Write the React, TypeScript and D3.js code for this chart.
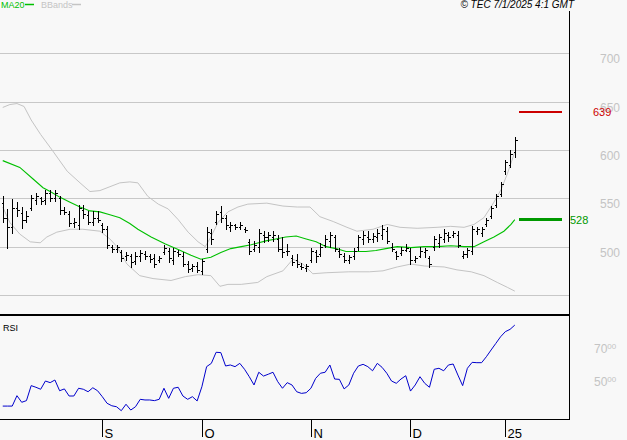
import React from "react";
import * as d3 from "d3";

// OHLC per trading day, Aug 2024 -> early Jan 2025
const highs = [552,539,549,546,541,537,553,556,551,559,559,559,552,541,537,530,543,543,537,537,537,524,521,502,502,497,494,
  492,494,497,495,492,492,490,502,499,499,497,494,485,482,484,487,520,518,537,542,533,525,523,525,520,508,506,
  518,516,515,516,512,510,503,491,492,483,482,499,497,504,512,515,512,499,493,491,499,512,516,516,514,518,522,
  520,504,496,500,503,499,490,500,499,490,511,513,518,515,516,516,495,499,521,520,520,530,542,554,567,590,600,613];
const lows = [526,499,514,532,519,526,538,544,544,544,547,547,534,534,521,520,518,530,523,522,525,515,499,494,494,485,486,
  479,482,485,487,484,479,484,492,484,482,490,480,474,475,474,472,494,503,523,525,518,516,518,518,515,492,495,
  494,505,506,506,495,489,491,481,479,477,475,484,484,490,500,500,495,489,484,483,487,497,503,505,505,506,508,
  504,495,487,491,495,482,484,489,489,479,497,500,505,506,510,500,488,489,492,513,511,521,530,541,552,575,582,593];
const opens = [545,530,520,540,535,528,540,548,550,548,555,550,550,538,534,524,522,538,533,526,530,522,518,500,498,494,490,
  490,485,490,492,490,488,486,494,496,486,494,490,482,478,480,475,498,514,526,536,530,520,522,520,518,505,498,
  500,512,510,510,508,498,496,488,486,480,478,486,494,492,502,506,510,496,490,486,490,500,508,510,508,510,512,
  516,500,494,493,497,496,486,490,494,488,500,504,508,512,512,512,490,492,496,516,514,523,532,543,554,578,584,598];
const closes = [530,520,540,538,528,532,550,552,547,556,550,555,538,536,524,526,540,534,526,530,528,518,502,498,500,488,491,
  484,490,493,490,487,482,488,499,488,495,492,482,477,480,476,485,515,508,534,530,522,522,520,522,517,496,502,
  514,510,512,512,498,494,495,484,482,479,480,496,490,500,508,512,498,492,486,489,496,510,512,508,511,514,518,
  506,498,490,497,499,486,488,496,497,482,508,510,514,510,514,502,492,497,518,518,518,528,540,552,565,588,596,610];

// RSI(14) per day
const rsi = [34.8,34.8,34.8,41.1,37.1,38.1,47.2,46.2,45.0,50.0,49.0,50.6,44.1,45.2,40.9,40.9,45.6,45.0,43.5,45.9,44.1,40.5,36.5,35.0,34.4,32.0,35.9,
  32.4,34.4,38.9,38.5,38.5,38.1,38.9,45.6,39.5,45.6,46.2,40.9,38.9,40.5,37.9,46.5,58.7,60.7,67.4,67.2,59.1,59.7,58.7,60.7,57.1,52.6,47.6,
  55.3,53.0,54.1,55.3,49.6,45.6,49.0,47.6,43.5,42.5,42.9,45.6,51.6,54.7,55.3,59.7,51.2,51.0,45.2,47.6,54.7,59.1,60.1,58.7,56.2,60.7,58.3,
  54.7,50.0,48.6,51.2,53.2,43.9,47.6,52.6,48.6,46.2,57.1,57.7,56.2,59.7,60.3,53.6,47.2,57.7,61.3,61.1,61.1,64.7,68.8,72.8,76.8,79.9,81.3,83.9];

// [bar index, value] read along the overlays
const ma20: [number, number][] = [[0,589],[3.6,582],[6.4,570],[8.5,561],[10,557],[12.1,551],[14.2,546],[16.3,541],[18.4,537],[20.5,536],
  [22.6,533],[24.7,530],[26.8,524],[28.5,518],[31.3,510],[34.2,503],[37,497],[39.7,491],[41.8,487],[43.9,489],[46,494],[48.1,498],
  [50.3,500],[52.4,502],[55.5,506],[57.6,508],[59.7,510],[61.9,511],[64,508],[66.1,505],[68.2,500],[70.3,498],[72.4,495],[74.5,495],
  [76.6,495],[78.7,496],[80.8,498],[83.2,500],[86.1,499],[88.9,500],[91.6,500],[94.5,501],[97.3,500],[99.4,500],[101.5,505],
  [103.6,510],[105.7,516],[107.2,523],[108,528]];
const bbUpper: [number, number][] = [[0,644],[1.5,647],[3,648],[4.5,645],[6,631],[8,616],[10.4,600],[13.6,578],[16.3,566],[18.4,557],
  [20.5,558],[22.6,562],[24.7,566],[26.8,567],[28.5,566],[30.6,552],[32.8,544],[34.9,539],[37,528],[39.1,515],[41.2,505],[42.7,500],
  [43.9,510],[45.4,525],[47.5,536],[49.6,541],[51.7,544],[55.7,545],[59.1,542],[62.1,541],[64.8,541],[66.9,531],[69.7,526],[72.6,520],
  [74.7,516],[78.1,518],[81.1,523],[83.8,520],[87.4,519],[91.6,520],[94.5,521],[97.3,520],[99.4,523],[101.5,530],[103.6,546],
  [105.1,559],[106.4,575],[108,598]];
const bbLower: [number, number][] = [[0,541],[1.5,525],[3.6,513],[5.8,505],[7.9,504],[9.3,510],[11.4,515],[14.2,518],[16.9,518],[20.5,516],
  [22.6,508],[24.1,500],[26.2,482],[28.9,470],[31.7,467],[35.5,465],[38.5,469],[41.2,471],[43.9,470],[45.8,459],[47.5,461],[50.3,461],
  [53.8,463],[55.7,469],[59.1,475],[61.2,487],[63.3,482],[65.4,472],[68.2,473],[73,474],[77.3,474],[80.2,475],[83.2,479],[86.1,482],
  [88.9,480],[93.1,479],[95.8,476],[98.8,474],[101.5,470],[104.3,463],[106.4,458],[108,454]];

const gridTicks = [450, 500, 550, 600, 650, 700];
const priceLabels = [500, 550, 600, 650, 700];
const rsiLabels = [70, 50];
const monthTicks = [21, 42, 65, 86, 106];
const monthLabels = ["S", "O", "N", "D", "25"];
const lastMa = 528;
const target = 639;

const W = 627;
const H = 440;
const axisX = 569.5;
const font = "'Liberation Sans', Arial, sans-serif";

const x = d3.scaleLinear().domain([0, highs.length - 1]).range([2.74, 514.8]);
const yP = d3.scaleLinear().domain([450, 700]).range([295, 53.3]);
const yR = d3.scaleLinear().domain([50, 70]).range([381, 348]);

const crisp = (v: number) => Math.round(v) + 0.5;

const pairLine = d3.line<[number, number]>()
  .x(d => x(d[0]))
  .y(d => yP(d[1]));

const rsiLine = d3.line<number>()
  .x((_, i) => x(i))
  .y(d => yR(d));

const App = () => {
  return (
    <svg width={W} height={H} style={{ position: "absolute", left: 0, top: 0 }} fontFamily={font}>
      <rect width={W} height={H} fill="#f8f8f8" />

      {/* grid */}
      {gridTicks.map(t => (
        <line key={t} x1={0} x2={axisX} y1={crisp(yP(t))} y2={crisp(yP(t))} stroke="#c8c8c8" shapeRendering="crispEdges" />
      ))}
      {priceLabels.map(t => (
        <text key={t} x={600} y={yP(t) + 10} fontSize={12} fill="#c4c4c4">{t}</text>
      ))}

      {/* bollinger + ma */}
      <path d={pairLine(bbUpper) || ""} fill="none" stroke="#c4c4c4" strokeWidth={1} />
      <path d={pairLine(bbLower) || ""} fill="none" stroke="#c4c4c4" strokeWidth={1} />
      <path d={pairLine(ma20) || ""} fill="none" stroke="#00c000" strokeWidth={1.1} />

      {/* bars */}
      <g stroke="#000" shapeRendering="crispEdges">
        {highs.map((h, i) => {
          const cx = crisp(x(i));
          return (
            <g key={i}>
              <line x1={cx} x2={cx} y1={Math.round(yP(h))} y2={Math.round(yP(lows[i])) + 1} />
              <line x1={cx - 2} x2={cx} y1={crisp(yP(opens[i]))} y2={crisp(yP(opens[i]))} />
              <line x1={cx} x2={cx + 2} y1={crisp(yP(closes[i]))} y2={crisp(yP(closes[i]))} />
            </g>
          );
        })}
      </g>

      {/* level markers */}
      <line x1={519} x2={562} y1={yP(target)} y2={yP(target)} stroke="#cc0000" strokeWidth={2} shapeRendering="crispEdges" />
      <text x={593} y={yP(target) + 4} fontSize={11} fill="#cc0000">{target}</text>
      <line x1={519} x2={562} y1={yP(lastMa)} y2={yP(lastMa)} stroke="#009900" strokeWidth={2.5} shapeRendering="crispEdges" />
      <text x={570} y={yP(lastMa) + 4} fontSize={11} fill="#009900">{lastMa}</text>

      {/* frame */}
      <line x1={axisX} x2={axisX} y1={11} y2={419} stroke="#000" shapeRendering="crispEdges" />
      <line x1={0} x2={axisX + 0.5} y1={315} y2={315} stroke="#000" strokeWidth={2} shapeRendering="crispEdges" />
      <line x1={0} x2={axisX + 0.5} y1={419.5} y2={419.5} stroke="#000" shapeRendering="crispEdges" />

      {/* rsi */}
      <text x={3} y={331} fontSize={9} fill="#000">RSI</text>
      <path d={rsiLine(rsi) || ""} fill="none" stroke="#0000cc" strokeWidth={1} />
      {rsiLabels.map(t => (
        <text key={t} x={594} y={yR(t) + 4.5} fontSize={12} fill="#c4c4c4">
          {t}<tspan fontSize={8} dy={-4}>00</tspan>
        </text>
      ))}

      {/* month ticks */}
      {monthTicks.map((m, i) => (
        <g key={m}>
          <line x1={crisp(x(m))} x2={crisp(x(m))} y1={419} y2={437} stroke="#000" shapeRendering="crispEdges" />
          <text x={crisp(x(m)) + 2} y={437.5} fontSize={13} fill="#000">{monthLabels[i]}</text>
        </g>
      ))}

      {/* legend + stamp */}
      <text x={1} y={8} fontSize={9} fill="#00c000">MA20</text>
      <line x1={25} x2={34} y1={4.5} y2={4.5} stroke="#00c000" strokeWidth={1.5} />
      <text x={41} y={8} fontSize={9} fill="#c4c4c4">BBands</text>
      <line x1={72} x2={81} y1={4.5} y2={4.5} stroke="#c4c4c4" strokeWidth={1.5} />
      <text x={574} y={7.5} fontSize={10} fontStyle="italic" textAnchor="end" fill="#000">© TEC 7/1/2025 4:1 GMT</text>
    </svg>
  );
};

export default App;
